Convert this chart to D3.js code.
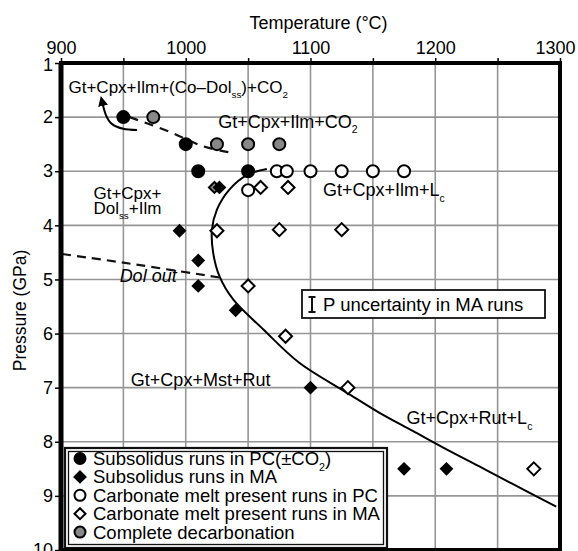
<!DOCTYPE html>
<html>
<head>
<meta charset="utf-8">
<script src="https://cdn.jsdelivr.net/npm/d3@7"></script>
<style>
  body { margin: 0; background: #fff; }
  svg { display: block; font-family: "Liberation Sans", Arial, sans-serif; }
</style>
</head>
<body>
<svg id="chart" width="578" height="551"></svg>
<script>
// run data, [temperature °C, pressure GPa]
const subsolidusPC = [[950, 2], [1000, 2.5], [1010, 3], [1050, 3]];
const subsolidusMA = [[1027, 3.3], [995, 4.1], [1010, 4.65], [1010, 5.12], [1040, 5.57],
  [1100, 7], [1175, 8.5], [1209, 8.5]];
const meltPC = [[1073, 3], [1081, 3], [1100, 3], [1125, 3], [1150, 3], [1175, 3], [1050, 3.35]];
const meltMA = [[1060, 3.3], [1082, 3.3], [1025, 4.1], [1075, 4.08], [1125, 4.08], [1050, 5.12],
  [1080, 6.05], [1130, 7], [1279, 8.5]];
const decarbonation = [[974, 2], [1025, 2.5], [1050, 2.5], [1075, 2.5]];
const decarbonationMA = [[1023, 3.3]];

// boundaries
const solidus = [[1065, 2.96], [1050, 3.06], [1035, 3.34], [1025, 3.71], [1021, 4.08], [1022, 4.51],
  [1027, 4.94], [1038, 5.37], [1062, 5.92], [1091, 6.54], [1129, 7.09], [1155, 7.46],
  [1182, 7.8], [1209, 8.14], [1235, 8.45], [1262, 8.78], [1297, 9.2]];
const decarbLine = [[955, 2.0], [988, 2.28], [1014, 2.54], [1037, 2.66]];
const dolOutLine = [[901, 4.53], [950, 4.69], [1029, 4.97]];
const arrowPath = [[961, 2.24], [941, 2.13], [933, 1.72]];

const tempTicks = [900, 1000, 1100, 1200, 1300];
const tempGrid = [950, 1000, 1050, 1100, 1150, 1200, 1250];
const presTicks = [1, 2, 3, 4, 5, 6, 7, 8, 9, 10];

const fieldLabels = [
  { t: 906, p: 1.56, size: 17, parts: [["Gt+Cpx+Ilm+(Co\u2013Dol"], ["ss", 1], [")+CO"], ["2", 1]] },
  { t: 1026, p: 2.2, size: 18, parts: [["Gt+Cpx+Ilm+CO"], ["2", 1]] },
  { t: 1110, p: 3.46, size: 18, parts: [["Gt+Cpx+Ilm+L"], ["c", 1]] },
  { t: 926, p: 3.51, size: 17, parts: [["Gt+Cpx+"]] },
  { t: 926, p: 3.79, size: 17, parts: [["Dol"], ["ss", 1], ["+Ilm"]] },
  { t: 956, p: 6.97, size: 18, parts: [["Gt+Cpx+Mst+Rut"]] },
  { t: 1177, p: 7.68, size: 18, parts: [["Gt+Cpx+Rut+L"], ["c", 1]] }
];

const legendItems = [
  { shape: "circle", fill: "#000", label: [["Subsolidus runs in PC(\u00b1CO"], ["2", 1], [")"]] },
  { shape: "diamond", fill: "#000", label: [["Subsolidus runs in MA"]] },
  { shape: "circle", fill: "#fff", label: [["Carbonate melt present runs in PC"]] },
  { shape: "diamond", fill: "#fff", label: [["Carbonate melt present runs in MA"]] },
  { shape: "circle", fill: "#888", label: [["Complete decarbonation"]] }
];

const svg = d3.select("#chart");
const x = d3.scaleLinear().domain([900, 1300]).range([61, 560]);
const y = d3.scaleLinear().domain([1, 10]).range([63, 550]);

svg.append("rect").attr("width", 578).attr("height", 551).attr("fill", "#fff");

// grid
const grid = svg.append("g").attr("stroke", "#969696").attr("stroke-width", 1.6);
grid.selectAll("line.v").data(tempGrid).join("line")
  .attr("x1", d => x(d)).attr("x2", d => x(d)).attr("y1", y(1)).attr("y2", y(10));
grid.selectAll("line.h").data(presTicks.slice(1, -1)).join("line")
  .attr("x1", x(900)).attr("x2", x(1300)).attr("y1", d => y(d)).attr("y2", d => y(d));

// axes
const xAxis = d3.axisTop(x).tickValues(d3.range(900, 1301, 50)).tickSize(5).tickPadding(4)
  .tickFormat(d => tempTicks.includes(d) ? d : "");
svg.append("g").attr("transform", `translate(0,${y(1)})`).call(xAxis)
  .call(g => g.select(".domain").remove())
  .call(g => g.selectAll("line").attr("stroke-width", 1.5))
  .call(g => g.selectAll("text").attr("font-size", 18).attr("font-family", "Liberation Sans, Arial")
    .attr("fill", "#000").attr("dx", d => d === 1300 ? -5 : 0));

const yAxis = d3.axisLeft(y).tickValues(presTicks).tickSize(6).tickPadding(2);
svg.append("g").attr("transform", `translate(${x(900)},0)`).call(yAxis)
  .call(g => g.select(".domain").remove())
  .call(g => g.selectAll("line").attr("stroke-width", 1.5))
  .call(g => g.selectAll("text").attr("font-size", 18).attr("font-family", "Liberation Sans, Arial")
    .attr("fill", "#000").attr("dy", d => d === 1 ? "0.42em" : "0.32em"));

svg.append("text").attr("x", (x(900) + x(1300)) / 2 + 8).attr("y", 29)
  .attr("text-anchor", "middle").attr("font-size", 18).attr("fill", "#000")
  .text("Temperature (\u00b0C)");
svg.append("text").attr("transform", `translate(26,${(y(1) + y(10)) / 2 + 4}) rotate(-90)`)
  .attr("text-anchor", "middle").attr("font-size", 17.5).attr("fill", "#000")
  .text("Pressure (GPa)");

// boundary lines
const line = d3.line().x(d => x(d[0])).y(d => y(d[1]));
svg.append("path").datum(solidus).attr("d", line.curve(d3.curveCatmullRom))
  .attr("fill", "none").attr("stroke", "#000").attr("stroke-width", 2);
svg.append("path").datum(decarbLine).attr("d", line.curve(d3.curveCatmullRom))
  .attr("fill", "none").attr("stroke", "#111").attr("stroke-width", 2.2).attr("stroke-dasharray", "9,7");
svg.append("path").datum(dolOutLine).attr("d", line.curve(d3.curveCatmullRom))
  .attr("fill", "none").attr("stroke", "#111").attr("stroke-width", 2.2).attr("stroke-dasharray", "9,6");

svg.append("defs").append("marker").attr("id", "head")
  .attr("viewBox", "0 0 10 10").attr("refX", 4).attr("refY", 5)
  .attr("markerWidth", 5).attr("markerHeight", 5).attr("orient", "auto")
  .append("path").attr("d", "M0,0L10,5L0,10z").attr("fill", "#000");
svg.append("path").datum(arrowPath).attr("d", line.curve(d3.curveNatural))
  .attr("fill", "none").attr("stroke", "#000").attr("stroke-width", 2).attr("marker-end", "url(#head)");

// symbols
const diamond = r => `M0,${-r}L${r},0L0,${r}L${-r},0Z`;
function drawCircles(data, fill) {
  svg.append("g").selectAll("circle").data(data).join("circle")
    .attr("cx", d => x(d[0])).attr("cy", d => y(d[1])).attr("r", 6)
    .attr("fill", fill).attr("stroke", "#000").attr("stroke-width", 2);
}
function drawDiamonds(data, fill, r) {
  svg.append("g").selectAll("path").data(data).join("path")
    .attr("transform", d => `translate(${x(d[0])},${y(d[1])})`)
    .attr("d", diamond(r)).attr("fill", fill).attr("stroke", "#000").attr("stroke-width", 2)
    .attr("stroke-linejoin", "miter");
}
drawDiamonds(decarbonationMA, "#888", 5.5);
drawDiamonds(subsolidusMA, "#000", 5.5);
drawDiamonds(meltMA, "#fff", 6.5);
drawCircles(meltPC, "#fff");
drawCircles(decarbonation, "#888");
drawCircles(subsolidusPC, "#000");

// rich text with subscripts
function richText(g, parts, size) {
  const t = g.append("text").attr("font-size", size).attr("fill", "#000");
  parts.forEach(([s, sub], i) => {
    const ts = t.append("tspan").text(s);
    if (sub) ts.attr("font-size", size * 0.58).attr("dy", size * 0.3);
    else if (i > 0 && parts[i - 1][1]) ts.attr("dy", -size * 0.3);
  });
  return t;
}
fieldLabels.forEach(l => {
  const g = svg.append("g").attr("transform", `translate(${x(l.t)},${y(l.p)})`);
  richText(g, l.parts, l.size);
});
svg.append("text").attr("x", x(947)).attr("y", y(5.05)).attr("font-size", 18)
  .attr("font-style", "italic").attr("fill", "#000").text("Dol out");

// P uncertainty box
const pbox = svg.append("g").attr("transform", "translate(302,290)");
pbox.append("rect").attr("width", 243).attr("height", 28).attr("fill", "#fff")
  .attr("stroke", "#111").attr("stroke-width", 1.8);
pbox.append("path").attr("d", "M10,7V22M6.5,7H13.5M6.5,22H13.5").attr("stroke", "#111").attr("stroke-width", 2).attr("fill", "none");
pbox.append("text").attr("x", 21).attr("y", 21).attr("font-size", 18.5).attr("fill", "#000")
  .text("P uncertainty in MA runs");

// legend
const leg = svg.append("g").attr("transform", "translate(65,448)");
leg.append("rect").attr("width", 322).attr("height", 100).attr("fill", "#fff")
  .attr("stroke", "#111").attr("stroke-width", 2.2);
leg.append("rect").attr("x", 3.5).attr("y", 3.5).attr("width", 315).attr("height", 93).attr("fill", "none")
  .attr("stroke", "#111").attr("stroke-width", 1.3);
legendItems.forEach((it, i) => {
  const cy = 10.5 + i * 18.4;
  if (it.shape === "circle") {
    leg.append("circle").attr("cx", 15).attr("cy", cy).attr("r", 5.5)
      .attr("fill", it.fill).attr("stroke", "#000").attr("stroke-width", 2);
  } else {
    leg.append("path").attr("transform", `translate(15,${cy})`).attr("d", diamond(5.5))
      .attr("fill", it.fill).attr("stroke", "#000").attr("stroke-width", 2);
  }
  const g = leg.append("g").attr("transform", `translate(28,${cy + 6.5})`);
  richText(g, it.label, 18.5);
});

// frame
svg.append("rect").attr("x", x(900)).attr("y", y(1)).attr("width", x(1300) - x(900)).attr("height", y(10) - y(1))
  .attr("fill", "none").attr("stroke", "#000").attr("stroke-width", 4);
svg.append("line").attr("x1", x(900)).attr("x2", x(900)).attr("y1", y(1)).attr("y2", y(10))
  .attr("stroke", "#000").attr("stroke-width", 5);
</script>
</body>
</html>
